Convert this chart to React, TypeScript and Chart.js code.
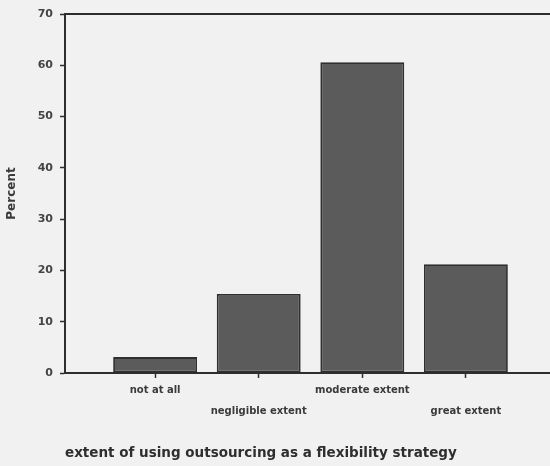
import React, { useEffect, useRef } from "react";
import { Chart, registerables } from "chart.js";

Chart.register(...registerables);

if (typeof document !== "undefined") {
  document.body.style.margin = "0";
}

const CATEGORIES = ["not at all", "negligible extent", "moderate extent", "great extent"];
const PERCENTS = [3.1, 15.4, 60.6, 21.2];
const Y_MIN = 0;
const Y_MAX = 70;
const Y_STEP = 10;
const X_TITLE = "extent of using outsourcing as a flexibility strategy";
const Y_TITLE = "Percent";

const FONT = "'DejaVu Sans', sans-serif";

const bgPlugin = {
  id: "bgFill",
  beforeDraw(chart: any) {
    const { ctx, width, height } = chart;
    ctx.save();
    ctx.fillStyle = "#f1f1f1";
    ctx.fillRect(0, 0, width, height);
    ctx.restore();
  },
};

const topBorderPlugin = {
  id: "topBorder",
  afterDatasetsDraw(chart: any) {
    const { ctx, chartArea } = chart;
    ctx.save();
    ctx.strokeStyle = "#2e2e2e";
    ctx.lineWidth = 2;
    ctx.beginPath();
    ctx.moveTo(chartArea.left - 1, chartArea.top);
    ctx.lineTo(chartArea.right, chartArea.top);
    ctx.stroke();
    ctx.restore();
  },
};

export default function App() {
  const ref = useRef<HTMLCanvasElement | null>(null);

  useEffect(() => {
    document.body.style.margin = "0";
    if (!ref.current) return;
    const chart = new Chart(ref.current, {
      type: "bar",
      data: {
        datasets: [
          {
            data: PERCENTS.map((v, i) => ({ x: i, y: v })),
            backgroundColor: "#5b5b5b",
            borderColor: "#2f2f2f",
            borderWidth: 1.8,
            borderSkipped: false,
            barPercentage: 0.81,
            categoryPercentage: 1,
          },
        ],
      },
      plugins: [bgPlugin, topBorderPlugin],
      options: {
        responsive: false,
        animation: false,
        devicePixelRatio: 1,
        layout: { padding: { top: 14, right: 4, left: 0, bottom: 0 } },
        plugins: {
          legend: { display: false },
          tooltip: { enabled: false },
        },
        scales: {
          x: {
            type: "linear",
            min: -0.87,
            max: 3.87,
            offset: false,
            afterBuildTicks(scale: any) {
              scale.ticks = CATEGORIES.map((_, i) => ({ value: i }));
            },
            afterFit(scale: any) {
              scale.height = 93;
            },
            grid: {
              display: true,
              drawOnChartArea: false,
              offset: false,
              tickLength: 5,
              tickColor: "#2e2e2e",
              tickWidth: 1.5,
            },
            border: { display: true, color: "#2e2e2e", width: 2 },
            ticks: {
              autoSkip: false,
              maxRotation: 0,
              minRotation: 0,
              padding: 2,
              color: "#3a3a3a",
              font: { family: FONT, size: 10, weight: "bold", lineHeight: 2.1 },
              callback: (value: any) => {
                const i = Math.round(Number(value));
                const label = CATEGORIES[i];
                if (label === undefined) return "";
                return i % 2 === 0 ? [label] : ["", label];
              },
            },
            title: {
              display: true,
              text: X_TITLE,
              align: "start",
              color: "#2e2e2e",
              font: { family: FONT, size: 13.5, weight: "bold" },
              padding: { top: 0, bottom: 4 },
            },
          },
          y: {
            min: Y_MIN,
            max: Y_MAX,
            afterFit(scale: any) {
              scale.width = 65;
            },
            grid: {
              display: true,
              drawOnChartArea: false,
              tickLength: 5,
              tickColor: "#2e2e2e",
              tickWidth: 1.5,
            },
            border: { display: true, color: "#2e2e2e", width: 2 },
            ticks: {
              stepSize: Y_STEP,
              padding: 7,
              color: "#444444",
              font: { family: FONT, size: 11, weight: "bold" },
            },
            title: {
              display: true,
              text: Y_TITLE,
              color: "#3a3a3a",
              font: { family: FONT, size: 12, weight: "bold" },
              padding: { top: 5, bottom: 0 },
            },
          },
        },
      } as any,
    });
    return () => chart.destroy();
  }, []);

  return (
    <div style={{ width: 550, height: 466, overflow: "hidden" }}>
      <canvas ref={ref} width={560} height={466} style={{ display: "block" }} />
    </div>
  );
}
